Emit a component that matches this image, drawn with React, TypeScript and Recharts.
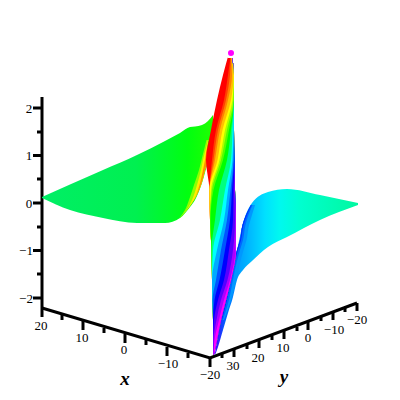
import { Area, ComposedChart, Line, ReferenceDot, ReferenceLine, XAxis, YAxis } from "recharts";

const SIZE = 400;
const FONT = "'Liberation Serif', serif";

// left wing of the surface in plot units
const leftWingX = [42, 70, 103, 137, 165, 180, 190, 195, 202, 208, 213];
const leftWingTop = [197, 184.5, 170, 155, 141, 133, 127, 126.5, 125, 121, 115];
const leftWingBottom = [198, 210, 218, 223, 223, 218, 207, 200, 183, 162, 150];

// right wing
const rightWingX = [215, 218, 223, 228, 233, 237, 243, 252, 268, 287, 320, 358];
const rightWingTop = [353, 335, 310, 290, 265, 250, 223, 203, 192, 189, 195, 203];
const rightWingBottom = [355, 347, 330, 313, 297, 280, 270, 261, 247, 237, 220, 205];

// dark rim down the inner edge of the right wing
const rimRows = [205, 215, 225, 240, 250, 265, 285, 300, 320];
const rimEdge = [251, 246, 242.5, 240, 237, 233, 229, 226, 221];
const rimDark = [251.5, 247, 243.5, 241, 238, 234, 230, 227, 222];
const rimMid = [252.5, 248.5, 245.5, 243, 240, 236, 232, 229, 223];
const rimLight = [255, 252, 249, 246.5, 243.5, 239.5, 235, 231, 224];

// yellow/orange fold at the right end of the left wing
const foldRows = [140, 150, 160, 170, 185, 200, 210, 218];
const foldEdge = [208.5, 207, 207.5, 205, 201, 194, 187, 180];
const foldLime = [206.5, 204, 201.5, 199, 194, 189, 185, 179.5];
const foldYellow = [208, 205.5, 203, 201, 197, 192, 186.5, 180];
const foldOrange = [208.5, 206.5, 205, 203, 199.5, 194, 187, 180];

// central ribbon: rows and the x where each hue band begins on that row
const ribbonRows = [53, 75, 100, 130, 160, 190, 220, 250, 280, 300, 320, 340, 355];
const ribbonRight = [231.5, 234, 234, 234, 234.5, 235, 236, 236, 231, 226, 221, 217, 214];
const ribbonHues = [
  "#ff0000", "#ff4000", "#ff8000", "#ffc000", "#ffff00", "#aaff00", "#55ff00", "#00ff00",
  "#00ff80", "#00ffff", "#00aaff", "#0055ff", "#0000ff", "#5500ff", "#aa00ff", "#ff00ff",
];
const ribbonStarts = [
  [229, 223, 217, 211, 206, 209.5, 210, 211.5, 212, 212.5, 213, 213, 213],
  [231, 228, 224, 216, 212, 209.5, 210, 211.5, 212, 212.5, 213, 213, 213],
  [231, 230, 226, 218, 213.5, 209.5, 210, 211.5, 212, 212.5, 213, 213, 213],
  [231, 232, 228, 220, 215, 209.5, 210, 211.5, 212, 212.5, 213, 213, 213],
  [231, 233.5, 231, 222.5, 217.5, 209.5, 210, 211.5, 212, 212.5, 213, 213, 213],
  [231, 234, 232.5, 225, 219.5, 211, 210, 211.5, 212, 212.5, 213, 213, 213],
  [231, 234, 233.5, 227, 221, 212, 210, 211.5, 212, 212.5, 213, 213, 213],
  [231, 234, 234, 229, 223, 213.5, 210.5, 211.5, 212, 212.5, 213, 213, 213],
  [231, 234, 234, 231, 227, 219, 215, 211.5, 212, 212.5, 213, 213, 213],
  [231, 234, 234, 232.5, 231, 225, 220, 213, 212, 212.5, 213, 213, 213],
  [231, 234, 234, 233.5, 232.5, 228, 224, 217, 212, 212.5, 213, 213, 213],
  [231, 234, 234, 234, 233.5, 230.5, 227, 221, 216, 212.5, 213, 213, 213],
  [231, 234, 234, 234, 234, 232, 230, 225, 219.5, 214.5, 213, 213, 213.5],
  [231, 234, 234, 234, 234.5, 233.5, 233, 229, 224, 218, 214, 213, 213.5],
  [231, 234, 234, 234, 234.5, 234.5, 235, 233, 227.5, 221, 216.5, 213.5, 213.5],
  [231, 234, 234, 234, 234.5, 235, 236, 235.5, 230, 224, 219, 214.5, 213.5],
];

// axes
const zAxisX = [42, 42];
const zAxisY = [97, 308];
const floorX = [42, 210, 357];
const floorY = [308, 358, 303];

const zTickY = [108, 155.5, 203, 250.5, 298];
const zTickLabels = ["2", "1", "0", "\u22121", "\u22122"];
const zMinorY = [132, 179, 227, 274];

const xTickX = [42, 83, 125, 167, 210];
const xTickY = [308, 321, 334, 347, 358];
const xTickLabels = ["20", "10", "0", "\u221210", "\u221220"];
const xLabelX = [41, 82, 124, 168, 210];
const xLabelY = [325, 337, 349, 363, 374];
const xMinorX = [62, 104, 146, 188];
const xMinorY = [315, 328, 340, 353];

const yTickX = [234, 259, 284, 308, 333, 357];
const yTickY = [349, 340, 331, 322, 312, 303];
const yTickLabels = ["30", "20", "10", "0", "\u221210", "\u221220"];
const yLabelX = [233, 258, 283, 308, 334, 357];
const yLabelY = [365, 357, 347, 337, 329, 319];
const yMinorX = [222, 247, 272, 297, 321, 345];
const yMinorY = [354, 345, 336, 327, 317, 308];

const leftWingData = leftWingX.map((x, i) => ({ x, band: [leftWingTop[i], leftWingBottom[i]] }));
const rightWingData = rightWingX.map((x, i) => ({ x, band: [rightWingTop[i], rightWingBottom[i]] }));
const ribbonData = ribbonRows.map((y, i) => ({
  y,
  right: ribbonRight[i],
  starts: ribbonStarts.map((s) => s[i]),
}));
const foldData = foldRows.map((y, i) => ({
  y,
  edge: foldEdge[i],
  lime: foldLime[i],
  yellow: foldYellow[i],
  orange: foldOrange[i],
}));
const rimData = rimRows.map((y, i) => ({
  y,
  dark: [rimEdge[i], rimDark[i]],
  mid: [rimEdge[i], rimMid[i]],
  light: [rimEdge[i], rimLight[i]],
}));

const layer: React.CSSProperties = { position: "absolute", left: 0, top: 0 };
const noMargin = { top: 0, right: 0, bottom: 0, left: 0 };

function tickLabel(x: number, y: number, value: string, key: string, fontSize = 13, extra = {}) {
  return (
    <ReferenceDot
      key={key}
      x={x}
      y={y}
      r={0}
      ifOverflow="visible"
      fill="none"
      stroke="none"
      label={{ value, position: "center", fill: "#000", fontSize, fontFamily: FONT, ...extra }}
    />
  );
}

function tick(x: number, y1: number, y2: number, key: string) {
  return (
    <ReferenceLine
      key={key}
      segment={[{ x, y: y1 }, { x, y: y2 }]}
      stroke="#000"
      strokeWidth={3}
      ifOverflow="visible"
    />
  );
}

function hTick(x1: number, y: number, key: string) {
  return (
    <ReferenceLine
      key={key}
      segment={[{ x: x1, y }, { x: 42, y }]}
      stroke="#000"
      strokeWidth={3}
      ifOverflow="visible"
    />
  );
}

// one flat sheet of the surface, x runs across the page
function Wing({ data, fill }: { data: { x: number; band: number[] }[]; fill: string }) {
  return (
    <div style={layer}>
      <ComposedChart width={SIZE} height={SIZE} margin={noMargin} data={data}>
        <defs>
          <linearGradient id="leftWing" x1="0" y1="0" x2="1" y2="0">
            <stop offset="0%" stopColor="#00ee66" />
            <stop offset="55%" stopColor="#00f050" />
            <stop offset="85%" stopColor="#00ff10" />
            <stop offset="100%" stopColor="#20ff00" />
          </linearGradient>
          <linearGradient id="rightWing" x1="0" y1="0" x2="1" y2="0">
            <stop offset="0%" stopColor="#4000ff" />
            <stop offset="7%" stopColor="#0060ff" />
            <stop offset="13%" stopColor="#0088ff" />
            <stop offset="17%" stopColor="#00a0ff" />
            <stop offset="24%" stopColor="#00b8ff" />
            <stop offset="35%" stopColor="#00e0ff" />
            <stop offset="45%" stopColor="#00f8f0" />
            <stop offset="59%" stopColor="#00ffd0" />
            <stop offset="100%" stopColor="#00f8a0" />
          </linearGradient>
        </defs>
        <XAxis type="number" dataKey="x" domain={[0, SIZE]} hide />
        <YAxis type="number" domain={[0, SIZE]} reversed hide />
        <Area type="monotone" dataKey="band" stroke="none" fill={fill} fillOpacity={1} isAnimationActive={false} />
      </ComposedChart>
    </div>
  );
}

export default function App() {
  return (
    <div style={{ ...layer, width: SIZE, height: SIZE, background: "#fff" }}>
      <div style={layer}>
        <ComposedChart width={SIZE} height={SIZE} margin={noMargin} data={zAxisX.map((x, i) => ({ x, v: zAxisY[i] }))}>
          <XAxis type="number" dataKey="x" domain={[0, SIZE]} hide />
          <YAxis type="number" domain={[0, SIZE]} reversed hide />
          <Line
            data={floorX.map((x, i) => ({ x, v: floorY[i] }))}
            dataKey="v"
            stroke="#000"
            strokeWidth={3}
            dot={false}
            isAnimationActive={false}
          />
          <Line
            data={zAxisX.map((x, i) => ({ x, v: zAxisY[i] }))}
            dataKey="v"
            stroke="#000"
            strokeWidth={3}
            dot={false}
            isAnimationActive={false}
          />
          {zTickY.map((y, i) => hTick(33, y, `zt${i}`))}
          {zMinorY.map((y, i) => hTick(37, y, `zm${i}`))}
          {xTickX.map((x, i) => tick(x, xTickY[i], xTickY[i] + 9, `xt${i}`))}
          {xMinorX.map((x, i) => tick(x, xMinorY[i], xMinorY[i] + 5, `xm${i}`))}
          {yTickX.map((x, i) => tick(x, yTickY[i], yTickY[i] + 8, `yt${i}`))}
          {yMinorX.map((x, i) => tick(x, yMinorY[i], yMinorY[i] + 4, `ym${i}`))}
          {zTickY.map((y, i) => tickLabel(i < 3 ? 29 : 26, y, zTickLabels[i], `zl${i}`))}
          {xLabelX.map((x, i) => tickLabel(x, xLabelY[i], xTickLabels[i], `xl${i}`))}
          {yLabelX.map((x, i) => tickLabel(x, yLabelY[i], yTickLabels[i], `yl${i}`))}
          {tickLabel(125, 378, "x", "xname", 19, { fontWeight: "bold", fontStyle: "italic" })}
          {tickLabel(284, 376, "y", "yname", 19, { fontWeight: "bold", fontStyle: "italic" })}
        </ComposedChart>
      </div>
      <Wing data={rightWingData} fill="url(#rightWing)" />
      <Wing data={leftWingData} fill="url(#leftWing)" />
      <div style={layer}>
        <ComposedChart width={SIZE} height={SIZE} layout="vertical" margin={noMargin} data={rimData}>
          <XAxis type="number" domain={[0, SIZE]} hide />
          <YAxis type="number" dataKey="y" domain={[0, SIZE]} hide />
          <Area type="monotone" dataKey="light" dot={false} stroke="none" fill="#0098ff" fillOpacity={1} isAnimationActive={false} />
          <Area type="monotone" dataKey="mid" dot={false} stroke="none" fill="#0068ff" fillOpacity={1} isAnimationActive={false} />
          <Area type="monotone" dataKey="dark" dot={false} stroke="none" fill="#0028ff" fillOpacity={1} isAnimationActive={false} />
        </ComposedChart>
      </div>
      <div style={layer}>
        <ComposedChart width={SIZE} height={SIZE} layout="vertical" margin={noMargin} data={foldData}>
          <XAxis type="number" domain={[0, SIZE]} hide />
          <YAxis type="number" dataKey="y" domain={[0, SIZE]} hide />
          <Area type="monotone" dataKey={(d: any) => [d.lime, d.edge]} dot={false} stroke="none" fill="#90ff00" fillOpacity={1} isAnimationActive={false} />
          <Area type="monotone" dataKey={(d: any) => [d.yellow, d.edge]} dot={false} stroke="none" fill="#ffee00" fillOpacity={1} isAnimationActive={false} />
          <Area type="monotone" dataKey={(d: any) => [d.orange, d.edge]} dot={false} stroke="none" fill="#ff9000" fillOpacity={1} isAnimationActive={false} />
        </ComposedChart>
      </div>
      <div style={layer}>
        <ComposedChart width={SIZE} height={SIZE} layout="vertical" margin={noMargin} data={ribbonData}>
          <XAxis type="number" domain={[0, SIZE]} hide />
          <YAxis type="number" dataKey="y" domain={[0, SIZE]} hide />
          {ribbonHues.map((hue, i) => (
            <Area
              key={hue}
              type="monotone"
              dataKey={(d: any) => [d.starts[i], d.right]}
              dot={false}
              stroke="none"
              fill={hue}
              fillOpacity={1}
              isAnimationActive={false}
            />
          ))}
        </ComposedChart>
      </div>
    </div>
  );
}
